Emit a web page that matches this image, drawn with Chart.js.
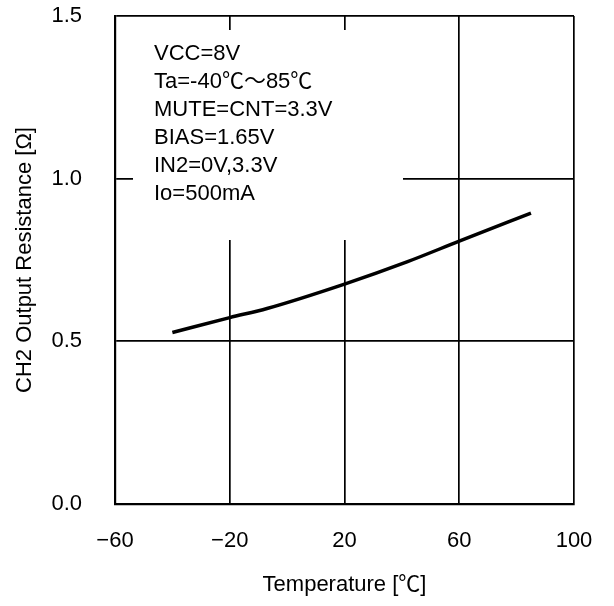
<!DOCTYPE html>
<html>
<head>
<meta charset="utf-8">
<script src="https://cdn.jsdelivr.net/npm/chart.js@4/dist/chart.umd.min.js"></script>
<style>
  html, body { margin: 0; padding: 0; background: #fff; }
  #wrap { width: 614px; height: 606px; }
</style>
</head>
<body>
<div id="wrap"><canvas id="chartCH2"></canvas></div>
<script>
// values
const temperaturas = [-40, -20, -7, 20, 42, 60, 85];
const resistencias = [0.527, 0.573, 0.601, 0.676, 0.745, 0.808, 0.894];
const ticksX = [-60, -20, 20, 60, 100];
const ticksY = [0.0, 0.5, 1.0, 1.5];
const condiciones = [
    'VCC=8V',
    'Ta=-40℃～85℃',
    'MUTE=CNT=3.3V',
    'BIAS=1.65V',
    'IN2=0V,3.3V',
    'Io=500mA'
];

const fuente = '"Liberation Sans", "Noto Sans CJK JP", sans-serif';

// white box with the test conditions, drawn over the grid
const cajaCondiciones = {
    id: 'cajaCondiciones',
    beforeDatasetsDraw(chart) {
        const { ctx, chartArea } = chart;
        const x0 = chartArea.left + 18;
        const y0 = chartArea.top + 14;
        ctx.save();
        ctx.fillStyle = '#fff';
        ctx.fillRect(x0, y0, 270, 210);
        ctx.fillStyle = '#000';
        ctx.font = '22px ' + fuente;
        ctx.textBaseline = 'alphabetic';
        condiciones.forEach((txt, i) => {
            ctx.fillText(txt, x0 + 21, y0 + 30 + i * 28);
        });
        ctx.restore();
    }
};

const canvas = document.getElementById('chartCH2');

window.chartCH2 = new Chart(canvas, {
    type: 'scatter',
    data: {
        datasets: [{
            data: temperaturas.map((t, i) => ({ x: t, y: resistencias[i] })),
            showLine: true,
            borderColor: '#000',
            borderWidth: 3.5,
            pointRadius: 0,
            cubicInterpolationMode: 'monotone',
            fill: false
        }]
    },
    options: {
        responsive: true,
        maintainAspectRatio: false,
        animation: false,
        events: [],
        layout: { padding: { left: 0, right: 40, top: 16, bottom: 0 } },
        plugins: {
            legend: { display: false },
            tooltip: { enabled: false }
        },
        scales: {
            x: {
                type: 'linear',
                min: -60,
                max: 100,
                afterBuildTicks: s => { s.ticks = ticksX.map(v => ({ value: v })); },
                afterFit: s => {
                    s.height = 102;
                    s.paddingLeft = 0;
                    s.paddingRight = 0;
                },
                grid: { color: '#000', lineWidth: 1.7, drawTicks: false },
                border: { color: '#000', width: 2.2 },
                ticks: {
                    color: '#000',
                    padding: 24,
                    maxRotation: 0,
                    font: { family: fuente, size: 22 },
                    callback: v => String(v).replace('-', '−')
                },
                title: {
                    display: true,
                    text: 'Temperature [℃]',
                    color: '#000',
                    font: { family: fuente, size: 22 },
                    padding: { top: 0, bottom: 8 }
                }
            },
            y: {
                min: 0,
                max: 1.5,
                afterBuildTicks: s => { s.ticks = ticksY.map(v => ({ value: v })); },
                afterFit: s => {
                    s.width = 115;
                    s.paddingTop = 0;
                    s.paddingBottom = 0;
                },
                grid: { color: '#000', lineWidth: 1.7, drawTicks: false },
                border: { color: '#000', width: 2.2 },
                ticks: {
                    color: '#000',
                    padding: 33,
                    font: { family: fuente, size: 22 },
                    callback: v => v.toFixed(1)
                },
                title: {
                    display: true,
                    text: 'CH2 Output Resistance [Ω]',
                    color: '#000',
                    font: { family: fuente, size: 22 },
                    padding: { top: 12, bottom: 0 }
                }
            }
        }
    },
    plugins: [cajaCondiciones]
});
</script>
</body>
</html>
